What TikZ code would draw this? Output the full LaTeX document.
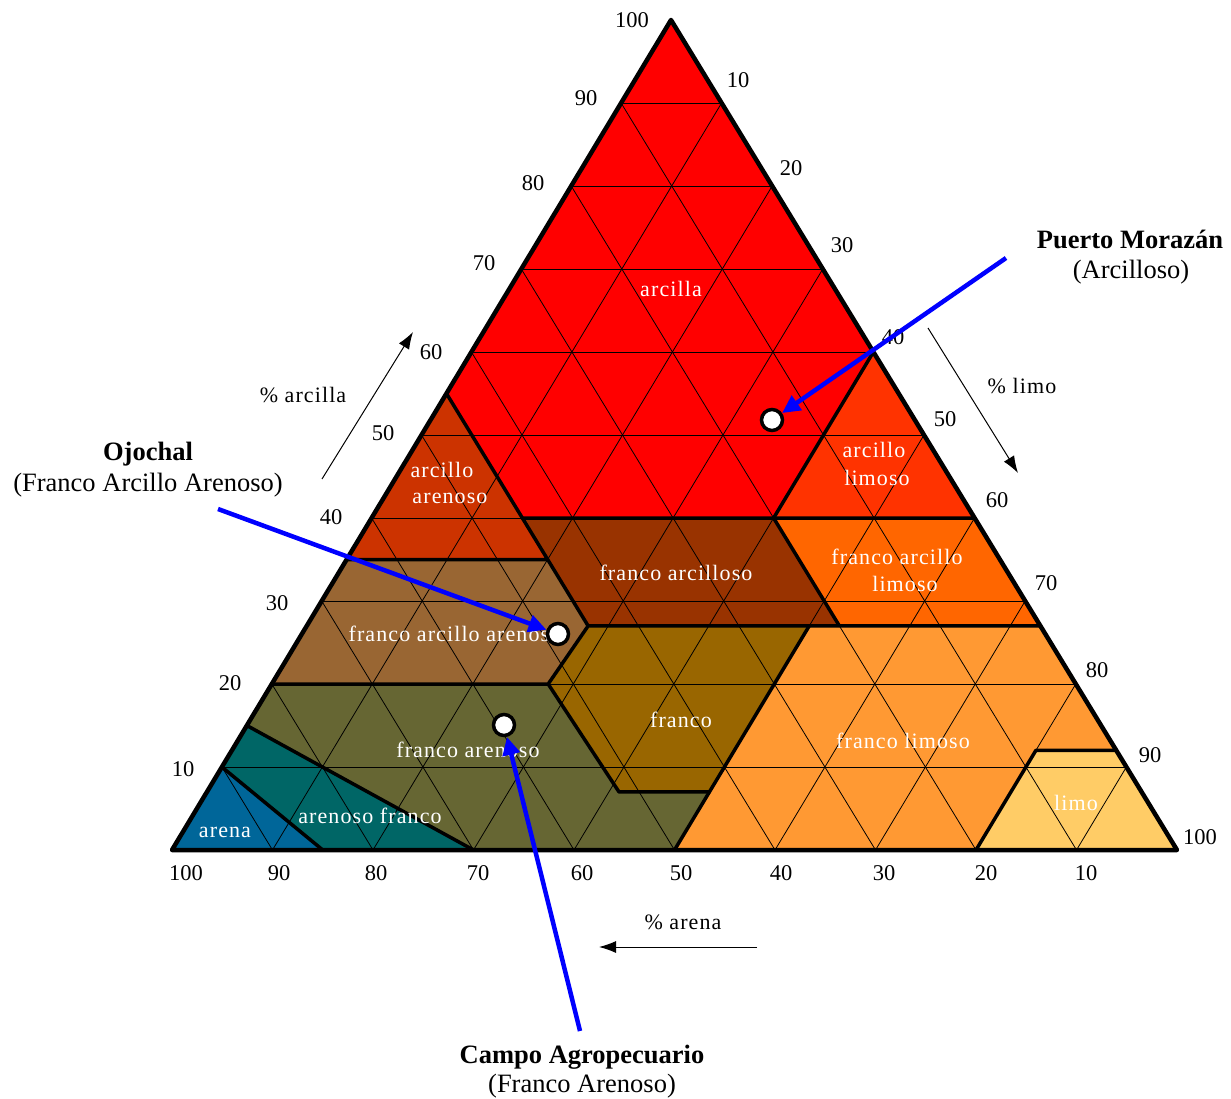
\documentclass[tikz,border=0pt]{standalone}
\usepackage{fontspec}
\setmainfont{Liberation Serif}
\newfontfamily\spacedserif[LetterSpace=5]{Liberation Serif}
\usetikzlibrary{arrows.meta}

% texture class colours
\definecolor{cArena}{HTML}{006699}
\definecolor{cArenosoFranco}{HTML}{006666}
\definecolor{cFrancoArenoso}{HTML}{666633}
\definecolor{cFranco}{HTML}{996600}
\definecolor{cFrancoArcilloArenoso}{HTML}{996633}
\definecolor{cArcilloArenoso}{HTML}{CC3300}
\definecolor{cFrancoArcilloso}{HTML}{993300}
\definecolor{cArcilla}{HTML}{FF0000}
\definecolor{cArcilloLimoso}{HTML}{FF3300}
\definecolor{cFrancoArcilloLimoso}{HTML}{FF6600}
\definecolor{cFrancoLimoso}{HTML}{FF9933}
\definecolor{cLimo}{HTML}{FFCC66}
\definecolor{pointerblue}{HTML}{0000FF}

\tikzset{
  gridline/.style={black, line width=0.8pt},
  classedge/.style={black, line width=3.5pt, line join=round},
  outline/.style={black, line width=4.5pt, line join=round},
  classlabel/.style={text=white, font=\spacedserif\fontsize{22}{22}\selectfont, inner sep=0pt, align=center},
  ticklabel/.style={font=\fontsize{22.5}{22}\selectfont, inner sep=0pt},
  axislabel/.style={font=\spacedserif\fontsize{22}{22}\selectfont, inner sep=0pt},
  axisarrow/.style={black, line width=1pt, -{Latex[length=17pt,width=12pt]}},
  sitename/.style={font=\fontsize{26.5}{28}\selectfont\bfseries, inner sep=0pt, anchor=base},
  sitetype/.style={font=\fontsize{26.5}{28}\selectfont, inner sep=0pt, anchor=base},
  pointer/.style={pointerblue, line width=4.5pt, -{Triangle[length=18pt,width=17pt]}},
  sample/.style={circle, fill=white, draw=black, line width=3.5pt, minimum size=21pt, inner sep=0pt},
}

\begin{document}
\begin{tikzpicture}[x=1pt, y=-1pt]
\useasboundingbox[fill=white] (0,0) rectangle (1231,1099);

% ternary frame: (sand %, clay %), silt is the remainder
\begin{scope}[shift={(1177pt,-850pt)}, x={(-10.05pt,0pt)}, y={(-5.06pt,8.3pt)}]
  % class areas
  \fill[cArcilla] (0,100) -- (0,60) -- (20,40) -- (45,40) -- (45,55) -- cycle;
  \fill[cArcilloLimoso] (0,60) -- (0,40) -- (20,40) -- cycle;
  \fill[cArcilloArenoso] (45,55) -- (45,35) -- (65,35) -- cycle;
  \fill[cFrancoArcilloso] (20,40) -- (45,40) -- (45,27) -- (20,27) -- cycle;
  \fill[cFrancoArcilloLimoso] (20,40) -- (0,40) -- (0,27) -- (20,27) -- cycle;
  \fill[cFrancoArcilloArenoso] (65,35) -- (45,35) -- (45,27) -- (52.5,20) -- (80,20) -- cycle;
  \fill[cFranco] (45,27) -- (23,27) -- (43,7) -- (52,7) -- (52.5,20) -- cycle;
  \fill[cFrancoLimoso] (23,27) -- (0,27) -- (0,12) -- (8,12) -- (20,0) -- (50,0) -- (43,7) -- cycle;
  \fill[cLimo] (8,12) -- (0,12) -- (0,0) -- (20,0) -- cycle;
  \fill[cFrancoArenoso] (80,20) -- (52.5,20) -- (52,7) -- (43,7) -- (50,0) -- (70,0) -- (85,15) -- cycle;
  \fill[cArenosoFranco] (85,15) -- (70,0) -- (85,0) -- (90,10) -- cycle;
  \fill[cArena] (90,10) -- (85,0) -- (100,0) -- cycle;

  % 10 % grid in the three directions
  \begin{scope}
    \clip (0,0) -- (100,0) -- (0,100) -- cycle;
    \foreach \k in {10,20,...,90} {
      \draw[gridline] (100-\k,\k) -- (0,\k);
      \draw[gridline] (\k,0) -- (\k,100-\k);
      \draw[gridline] (\k,0) -- (0,\k);
    }
  \end{scope}

  % class boundaries
  \draw[classedge] (0,60) -- (20,40) -- (45,40) -- (45,55);
  \draw[classedge] (45,40) -- (45,35) -- (65,35);
  \draw[classedge] (0,40) -- (20,40) -- (20,27);
  \draw[classedge] (0,27) -- (45,27) -- (52.5,20) -- (80,20);
  \draw[classedge] (45,35) -- (45,27);
  \draw[classedge] (52.5,20) -- (52,7) -- (43,7) -- (23,27);
  \draw[classedge] (43,7) -- (50,0);
  \draw[classedge] (0,12) -- (8,12) -- (20,0);
  \draw[classedge] (85,15) -- (70,0);
  \draw[classedge] (90,10) -- (85,0);

  % outer triangle
  \draw[outline] (0,0) -- (100,0) -- (0,100) -- cycle;
\end{scope}

% class names
\node[classlabel] (nArcilla) at (671,289) {arcilla};
\node[classlabel] (nArcilloLimosoA) at (874,450) {arcillo};
\node[classlabel] (nArcilloLimosoB) at (877,478) {limoso};
\node[classlabel] (nArcilloArenosoA) at (442,470) {arcillo};
\node[classlabel] (nArcilloArenosoB) at (450,498) {arenoso};
\node[classlabel] (nFrancoArcilloso) at (676,573) {franco arcilloso};
\node[classlabel] (nFALA) at (897,557) {franco arcillo};
\node[classlabel] (nFALB) at (905,584) {limoso};
\node[classlabel] (nFAA) at (455,634) {franco arcillo arenoso};
\node[classlabel] (nFranco) at (681,720) {franco};
\node[classlabel] (nFrancoLimoso) at (903,741) {franco limoso};
\node[classlabel] (nLimo) at (1076,803) {limo};
\node[classlabel] (nFrancoArenoso) at (468,750) {franco arenoso};
\node[classlabel] (nArenosoFranco) at (370,816) {arenoso franco};
\node[classlabel] (nArena) at (225,832) {arena};

% clay scale (left side)
\foreach \v/\px/\py in {100/632/20, 90/586/98, 80/533/183, 70/484/263, 60/431/352,
                        50/383/433, 40/331/517, 30/277/603, 20/230/683, 10/183/769}
  \node[ticklabel] (clay\v) at (\px,\py) {\v};
% silt scale (right side)
\foreach \v/\px/\py in {10/738/80, 20/791/168, 30/842/245, 40/893/337, 50/945/419,
                        60/997/500, 70/1046/583, 80/1097/670, 90/1150/755, 100/1200/837}
  \node[ticklabel] (silt\v) at (\px,\py) {\v};
% sand scale (base)
\foreach \v/\px in {100/186, 90/279, 80/376, 70/478, 60/582, 50/681, 40/781, 30/884, 20/986, 10/1086}
  \node[ticklabel] (sand\v) at (\px,873) {\v};

% axis captions and direction arrows
\node[axislabel] (capClay) at (303,395) {\% arcilla};
\node[axislabel] (capSilt) at (1022,386) {\% limo};
\node[axislabel] (capSand) at (683,922) {\% arena};
\coordinate (clayTail) at (322,479);
\coordinate (clayTip) at (413,332);
\coordinate (siltTail) at (928,328);
\coordinate (siltTip) at (1018,473);
\coordinate (sandTail) at (757,947);
\coordinate (sandTip) at (599,947);
\draw[axisarrow] (clayTail) -- (clayTip);
\draw[axisarrow] (siltTail) -- (siltTip);
\draw[axisarrow] (sandTail) -- (sandTip);

% sampled sites
\node[sample] (pm) at (772,420) {};
\node[sample] (oj) at (558,634) {};
\node[sample] (ca) at (504,725) {};

\node[sitename] (pmName) at (1130,249) {Puerto Morazán};
\node[sitetype] (pmType) at (1131,279) {(Arcilloso)};
\node[sitename] (ojName) at (148,460) {Ojochal};
\node[sitetype] (ojType) at (148,491) {(Franco Arcillo Arenoso)};
\node[sitename] (caName) at (582,1063) {Campo Agropecuario};
\node[sitetype] (caType) at (582,1092) {(Franco Arenoso)};

\coordinate (pmTail) at (1006,258);
\coordinate (ojTail) at (218,509);
\coordinate (caTail) at (580,1031);
\draw[pointer] (pmTail) -- (pm);
\draw[pointer] (ojTail) -- (oj);
\draw[pointer] (caTail) -- (ca);
\end{tikzpicture}
\end{document}
